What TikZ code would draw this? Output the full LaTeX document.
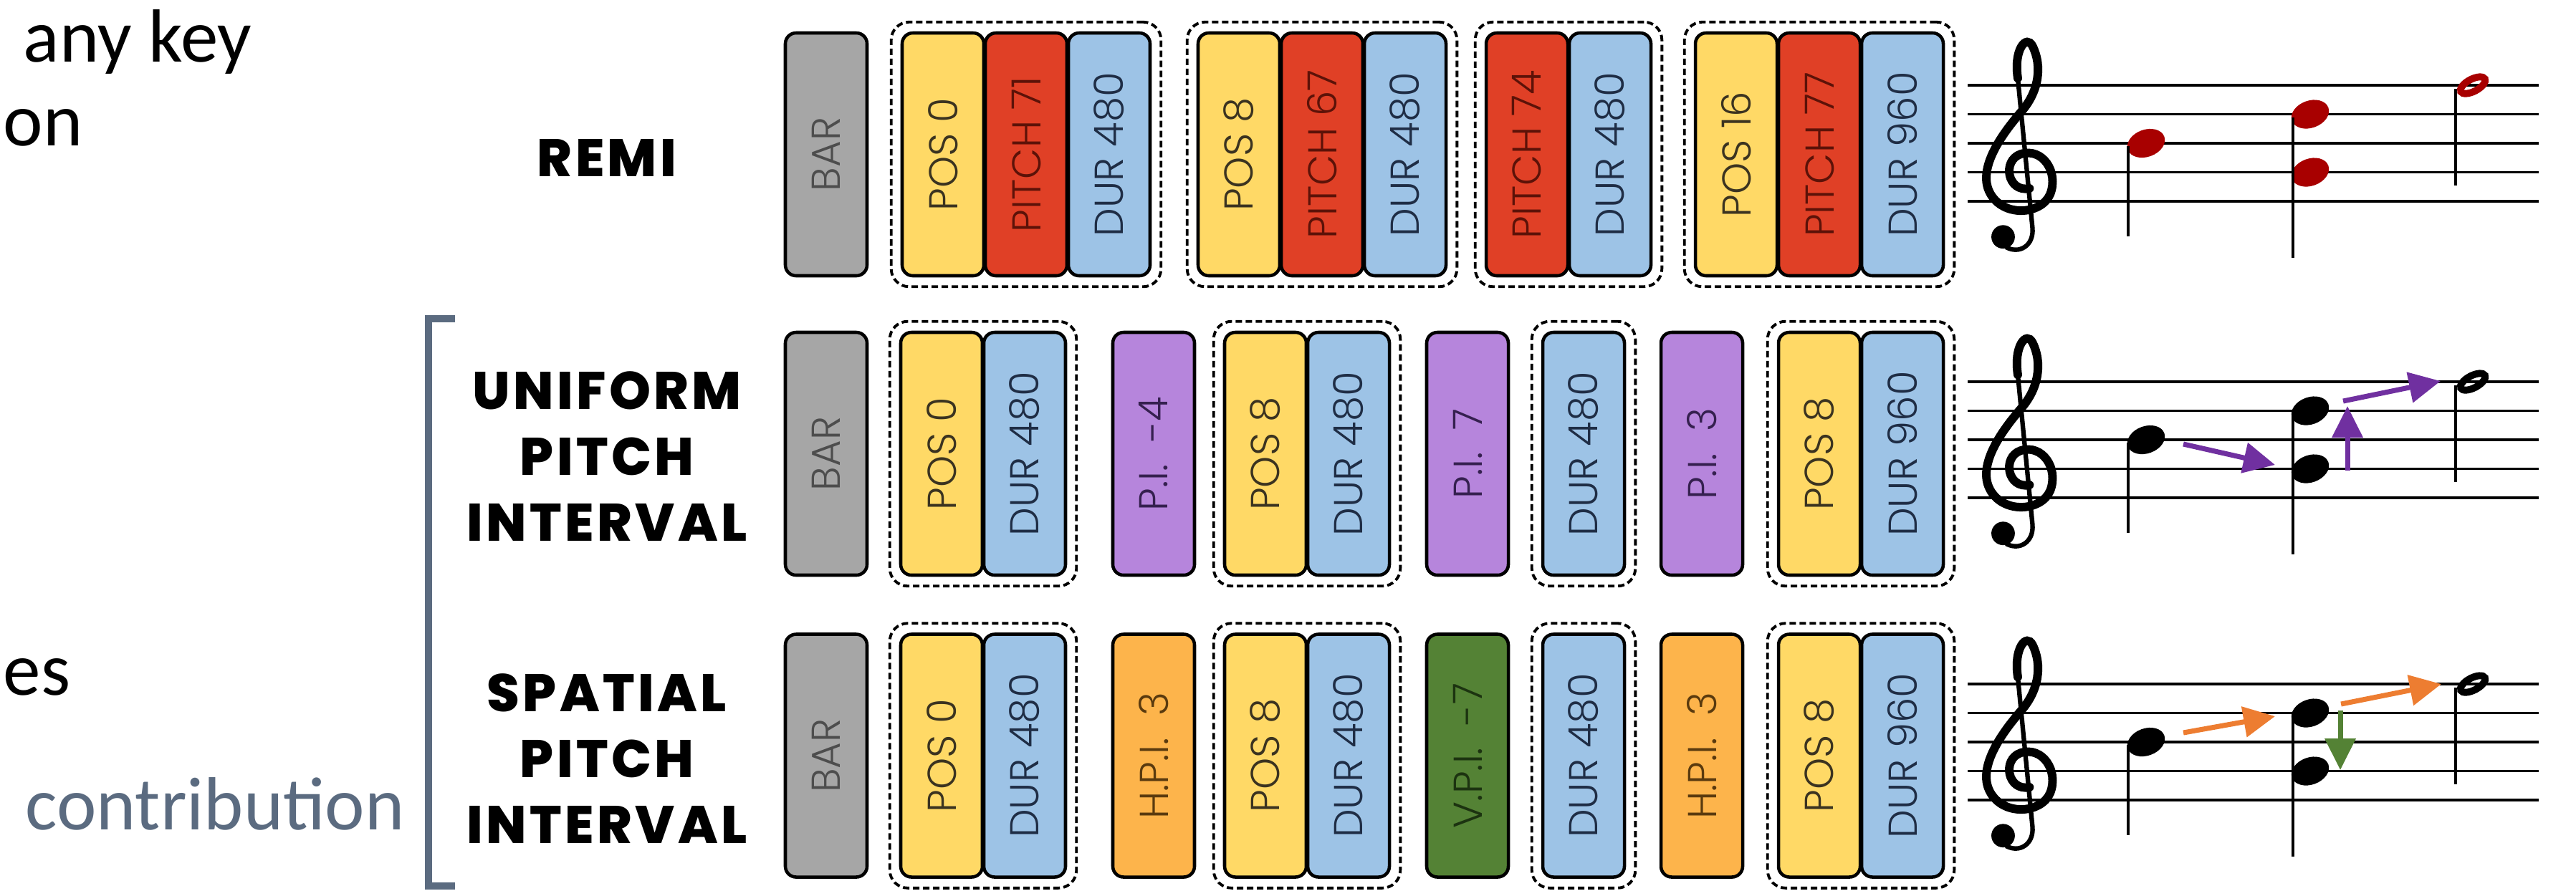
\documentclass[tikz,border=0pt]{standalone}
\usepackage{fontspec}
\usepackage{graphicx}
\setmainfont{Carlito}
\IfFontExistsTF{Poppins Light}{\newfontfamily\tokfont{Poppins Light}}{\newfontfamily\tokfont{Poppins}}
\IfFontExistsTF{Poppins ExtraBold}{\newfontfamily\rowfont[LetterSpace=6]{Poppins ExtraBold}}{\newfontfamily\rowfont[LetterSpace=6,FakeBold=2]{Poppins}}
\usetikzlibrary{fit,arrows.meta}

\definecolor{barfill}{HTML}{A6A6A6}
\definecolor{bartext}{HTML}{4D4D4D}
\definecolor{posfill}{HTML}{FFD966}
\definecolor{postext}{HTML}{3B3320}
\definecolor{pitchfill}{HTML}{E04026}
\definecolor{pitchtext}{HTML}{5C1208}
\definecolor{durfill}{HTML}{9DC3E6}
\definecolor{durtext}{HTML}{1F2D45}
\definecolor{pifill}{HTML}{B685DC}
\definecolor{pitext}{HTML}{35204F}
\definecolor{hpifill}{HTML}{FDB44B}
\definecolor{hpitext}{HTML}{5A3A0E}
\definecolor{vpifill}{HTML}{548235}
\definecolor{vpitext}{HTML}{1C3310}
\definecolor{pizarra}{HTML}{5B6B80}
\definecolor{rojonota}{HTML}{A80000}
\definecolor{morado}{HTML}{7030A0}
\definecolor{naranja}{HTML}{ED7D31}
\definecolor{verde}{HTML}{548235}

\newcommand{\vtext}[1]{\rotatebox{90}{#1}}

\begin{document}
\begin{tikzpicture}[
    tok/.style={draw, line width=1.3pt, rounded corners=0.15cm, minimum width=1.14cm,
      minimum height=3.39cm, inner sep=0pt, font=\tokfont\fontsize{16}{16}\selectfont},
    tokbar/.style={tok, fill=barfill, text=bartext},
    tokpos/.style={tok, fill=posfill, text=postext},
    tokpitch/.style={tok, fill=pitchfill, text=pitchtext},
    tokdur/.style={tok, fill=durfill, text=durtext},
    tokpi/.style={tok, fill=pifill, text=pitext},
    tokhpi/.style={tok, fill=hpifill, text=hpitext},
    tokvpi/.style={tok, fill=vpifill, text=vpitext},
    grupo/.style={draw, dash pattern=on 0.09cm off 0.05cm, line width=1.1pt,
      rounded corners=0.25cm, inner sep=0.13cm},
    fila/.style={font=\rowfont\fontsize{21}{26.2}\selectfont, align=center, inner sep=0pt},
    texto/.style={font=\fontsize{29.9}{32}\selectfont, anchor=base west, inner sep=0pt},
    linea/.style={line width=0.95pt},
    plica/.style={line width=0.9pt},
    flecha/.style={line width=2pt, -{Triangle[length=0.44cm,width=0.42cm]}},
    clave/.pic={
      \draw[line width=3.4pt, line cap=round]
        (0.35,-0.55) .. controls (-0.4,-0.7) and (-0.6,0.4) .. (0.05,0.62)
        .. controls (0.8,0.85) and (1.35,0.0) .. (1.05,-0.75)
        .. controls (0.75,-1.45) and (-0.55,-1.55) .. (-1.0,-0.7)
        .. controls (-1.45,0.15) and (-0.55,1.35) .. (0.1,2.1)
        .. controls (0.65,2.75) and (0.8,3.6) .. (0.45,4.3)
        .. controls (0.25,4.7) and (-0.2,4.2) .. (-0.05,3.2);
      \draw[line width=1.8pt] (-0.05,3.2) -- (0.45,-1.9)
        .. controls (0.5,-2.5) and (0.0,-2.8) .. (-0.45,-2.55);
      \fill (-0.55,-2.2) circle (0.4);
    }
  ]
  \useasboundingbox (0,0) rectangle (35.95,-12.43);

  % Texto de la izquierda
  \node[texto] (t1) at (0.32,-0.86) {any key};
  \node[texto] (t2) at (0.04,-2.03) {on};
  \node[texto] (t3) at (0.04,-9.70) {es};
  \node[texto, text=pizarra] (t4) at (0.35,-11.58) {contribution};

  % Corchete
  \draw[pizarra, line width=0.1cm] (6.35,-4.45) -- (5.98,-4.45) -- (5.98,-12.37) -- (6.35,-12.37);

  % Nombres de las filas
  \node[fila] (lremi) at (8.47,-2.20) {REMI};
  \node[fila] (luni) at (8.47,-6.37) {UNIFORM\\PITCH\\INTERVAL};
  \node[fila] (lspa) at (8.47,-10.59) {SPATIAL\\PITCH\\INTERVAL};

  % Fila REMI
  \node[tokbar] (r1bar) at (11.53,-2.155) {\vtext{BAR}};
  \node[tokpos] (r1p1) at (13.16,-2.155) {\vtext{POS 0}};
  \node[tokpitch] (r1t1) at (14.32,-2.155) {\vtext{PITCH 71}};
  \node[tokdur] (r1d1) at (15.48,-2.155) {\vtext{DUR 480}};
  \node[tokpos] (r1p2) at (17.29,-2.155) {\vtext{POS 8}};
  \node[tokpitch] (r1t2) at (18.45,-2.155) {\vtext{PITCH 67}};
  \node[tokdur] (r1d2) at (19.61,-2.155) {\vtext{DUR 480}};
  \node[tokpitch] (r1t3) at (21.31,-2.155) {\vtext{PITCH 74}};
  \node[tokdur] (r1d3) at (22.47,-2.155) {\vtext{DUR 480}};
  \node[tokpos] (r1p4) at (24.23,-2.155) {\vtext{POS 16}};
  \node[tokpitch] (r1t4) at (25.39,-2.155) {\vtext{PITCH 77}};
  \node[tokdur] (r1d4) at (26.55,-2.155) {\vtext{DUR 960}};
  \node[grupo, fit=(r1p1)(r1d1)] (r1g1) {};
  \node[grupo, fit=(r1p2)(r1d2)] (r1g2) {};
  \node[grupo, fit=(r1t3)(r1d3)] (r1g3) {};
  \node[grupo, fit=(r1p4)(r1d4)] (r1g4) {};

  % Fila uniforme
  \node[tokbar] (r2bar) at (11.53,-6.335) {\vtext{BAR}};
  \node[tokpos] (r2p1) at (13.14,-6.335) {\vtext{POS 0}};
  \node[tokdur] (r2d1) at (14.30,-6.335) {\vtext{DUR 480}};
  \node[tokpi] (r2i1) at (16.10,-6.335) {\vtext{P.I.~ -4}};
  \node[tokpos] (r2p2) at (17.66,-6.335) {\vtext{POS 8}};
  \node[tokdur] (r2d2) at (18.82,-6.335) {\vtext{DUR 480}};
  \node[tokpi] (r2i2) at (20.48,-6.335) {\vtext{P.I.~ 7}};
  \node[tokdur] (r2d3) at (22.10,-6.335) {\vtext{DUR 480}};
  \node[tokpi] (r2i3) at (23.75,-6.335) {\vtext{P.I.~ 3}};
  \node[tokpos] (r2p4) at (25.39,-6.335) {\vtext{POS 8}};
  \node[tokdur] (r2d4) at (26.55,-6.335) {\vtext{DUR 960}};
  \node[grupo, fit=(r2p1)(r2d1)] (r2g1) {};
  \node[grupo, fit=(r2p2)(r2d2)] (r2g2) {};
  \node[grupo, fit=(r2d3)] (r2g3) {};
  \node[grupo, fit=(r2p4)(r2d4)] (r2g4) {};

  % Fila espacial
  \node[tokbar] (r3bar) at (11.53,-10.55) {\vtext{BAR}};
  \node[tokpos] (r3p1) at (13.14,-10.55) {\vtext{POS 0}};
  \node[tokdur] (r3d1) at (14.30,-10.55) {\vtext{DUR 480}};
  \node[tokhpi] (r3i1) at (16.10,-10.55) {\vtext{H.P.I.~ 3}};
  \node[tokpos] (r3p2) at (17.66,-10.55) {\vtext{POS 8}};
  \node[tokdur] (r3d2) at (18.82,-10.55) {\vtext{DUR 480}};
  \node[tokvpi] (r3i2) at (20.48,-10.55) {\vtext{V.P.I.~ -7}};
  \node[tokdur] (r3d3) at (22.10,-10.55) {\vtext{DUR 480}};
  \node[tokhpi] (r3i3) at (23.75,-10.55) {\vtext{H.P.I.~ 3}};
  \node[tokpos] (r3p4) at (25.39,-10.55) {\vtext{POS 8}};
  \node[tokdur] (r3d4) at (26.55,-10.55) {\vtext{DUR 960}};
  \node[grupo, fit=(r3p1)(r3d1)] (r3g1) {};
  \node[grupo, fit=(r3p2)(r3d2)] (r3g2) {};
  \node[grupo, fit=(r3d3)] (r3g3) {};
  \node[grupo, fit=(r3p4)(r3d4)] (r3g4) {};

  % Pentagramas y claves
  \foreach \yy in {1.19,5.33,9.55} {
    \foreach \k in {0,...,4}
      \draw[linea] (27.46,-\yy-0.405*\k) -- (35.43,-\yy-0.405*\k);
    \pic[scale=0.41] at (28.18,-\yy-1.215) {clave};
  }

  % Notas
  \foreach \yy/\col in {1.19/rojonota,5.33/black,9.55/black} {
    \fill[\col, shift={(29.95,-\yy-0.81)}, rotate=20] (0,0) ellipse (0.27 and 0.19);
    \fill[\col, shift={(32.24,-\yy-0.405)}, rotate=20] (0,0) ellipse (0.27 and 0.19);
    \fill[\col, shift={(32.24,-\yy-1.215)}, rotate=20] (0,0) ellipse (0.27 and 0.19);
    \draw[\col, line width=2.8pt, shift={(34.51,-\yy)}, rotate=28] (0,0) ellipse (0.19 and 0.085);
    \draw[plica] (29.70,-\yy-0.85) -- (29.70,-\yy-2.11);
    \draw[plica] (32.00,-\yy-0.45) -- (32.00,-\yy-2.41);
    \draw[plica] (34.27,-\yy-0.05) -- (34.27,-\yy-1.40);
  }

  % Intervalos uniformes
  \coordinate (u1a) at (30.47,-6.20);
  \coordinate (u1b) at (31.75,-6.49);
  \coordinate (u2a) at (32.76,-6.57);
  \coordinate (u2b) at (32.76,-5.67);
  \coordinate (u3a) at (32.70,-5.60);
  \coordinate (u3b) at (34.06,-5.32);
  \draw[flecha, morado] (u1a) -- (u1b);
  \draw[flecha, morado] (u2a) -- (u2b);
  \draw[flecha, morado] (u3a) -- (u3b);

  % Intervalos espaciales
  \coordinate (s1a) at (30.47,-10.23);
  \coordinate (s1b) at (31.75,-10.00);
  \coordinate (s2a) at (32.67,-9.83);
  \coordinate (s2b) at (34.07,-9.55);
  \coordinate (s3a) at (32.66,-9.92);
  \coordinate (s3b) at (32.66,-10.75);
  \draw[flecha, naranja] (s1a) -- (s1b);
  \draw[flecha, naranja] (s2a) -- (s2b);
  \draw[flecha, verde] (s3a) -- (s3b);
\end{tikzpicture}
\end{document}
